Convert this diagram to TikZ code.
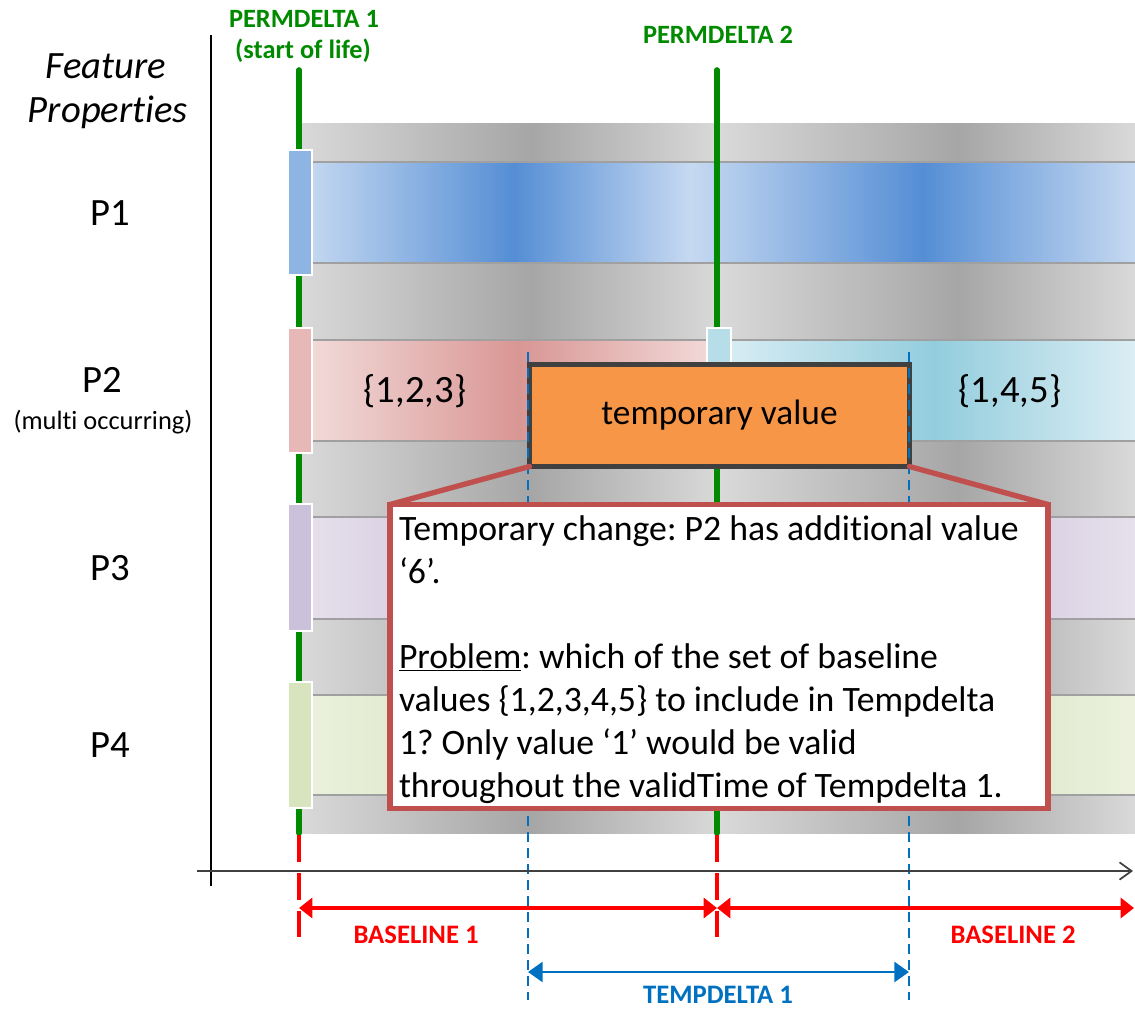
\documentclass[tikz,border=0pt]{standalone}
\usepackage{fontspec}
\setmainfont{Carlito}[Ligatures=NoCommon]
\usetikzlibrary{arrows.meta}
\frenchspacing

% palette
\definecolor{gLight}{HTML}{D9D9D9}
\definecolor{gDark}{HTML}{A6A6A6}
\definecolor{bLight}{HTML}{C6D9F1}
\definecolor{bDark}{HTML}{558ED5}
\definecolor{pkLight}{HTML}{F2DCDB}
\definecolor{pkDark}{HTML}{D99694}
\definecolor{cyLight}{HTML}{DBEEF4}
\definecolor{cyDark}{HTML}{93CDDD}
\definecolor{lvLight}{HTML}{E6E0EC}
\definecolor{lvDark}{HTML}{CCC1DA}
\definecolor{gnLight}{HTML}{EBF1DE}
\definecolor{gnDark}{HTML}{D7E4BD}
\definecolor{tabP1}{HTML}{8EB4E3}
\definecolor{tabP2}{HTML}{E6B9B8}
\definecolor{tabP2b}{HTML}{B7DEE8}
\definecolor{tabP3}{HTML}{CCC1DA}
\definecolor{tabP4}{HTML}{D7E4BD}
\definecolor{deltaGreen}{HTML}{008A00}
\definecolor{baseRed}{HTML}{FF0000}
\definecolor{tempBlue}{HTML}{0070C0}
\definecolor{tempOrange}{HTML}{F79646}
\definecolor{boxEdge}{HTML}{404040}
\definecolor{noteRed}{HTML}{C0504D}
\definecolor{rowEdge}{HTML}{A0A0A0}
\definecolor{axisGray}{HTML}{404040}

% horizontal shadings (the 25bp..75bp span covers the filled path)
\pgfdeclarehorizontalshading{bandshade}{100bp}{color(0bp)=(gLight); color(25bp)=(gLight); color(38.8bp)=(gDark); color(50.1bp)=(gLight); color(64.4bp)=(gDark); color(75bp)=(gLight); color(100bp)=(gLight)}
\pgfdeclarehorizontalshading{blueshade}{100bp}{color(0bp)=(bLight); color(25bp)=(bLight); color(37.6bp)=(bDark); color(48.2bp)=(bLight); color(62.2bp)=(bDark); color(75bp)=(bLight); color(100bp)=(bLight)}
\pgfdeclarehorizontalshading{lavshade}{100bp}{color(0bp)=(lvLight); color(25bp)=(lvLight); color(37.6bp)=(lvDark); color(48.2bp)=(lvLight); color(62.2bp)=(lvDark); color(75bp)=(lvLight); color(100bp)=(lvLight)}
\pgfdeclarehorizontalshading{grnshade}{100bp}{color(0bp)=(gnLight); color(25bp)=(gnLight); color(37.6bp)=(gnDark); color(48.2bp)=(gnLight); color(62.2bp)=(gnDark); color(75bp)=(gnLight); color(100bp)=(gnLight)}
\pgfdeclarehorizontalshading{pinkshade}{100bp}{color(0bp)=(pkLight); color(25bp)=(pkLight); color(51bp)=(pkDark); color(75bp)=(pkLight); color(100bp)=(pkLight)}
\pgfdeclarehorizontalshading{cyanshade}{100bp}{color(0bp)=(cyLight); color(25bp)=(cyLight); color(51bp)=(cyDark); color(75bp)=(cyLight); color(100bp)=(cyLight)}

\begin{document}
\begin{tikzpicture}[x=0.75pt,y=-0.75pt,
  txt/.style={inner sep=0pt, outer sep=0pt},
  proplbl/.style={txt, anchor=base, font=\fontsize{29}{35}\selectfont},
  axislbl/.style={txt, anchor=base, font=\itshape\fontsize{29}{35}\selectfont},
  setlbl/.style={txt, anchor=base, font=\fontsize{29}{35}\selectfont},
  deltalbl/.style={txt, anchor=base, font=\bfseries\fontsize{19.8}{24}\selectfont, text=deltaGreen},
  baselbl/.style={txt, anchor=base, font=\bfseries\fontsize{20}{24}\selectfont, text=baseRed},
  templbl/.style={txt, anchor=base, font=\bfseries\fontsize{20}{24}\selectfont, text=tempBlue},
  noteline/.style={txt, anchor=base west, font=\fontsize{26.8}{32}\selectfont},
  rowline/.style={draw=rowEdge, line width=1.2pt},
  tab/.style={draw=white, line width=0.8pt},
  lifeline/.style={draw=deltaGreen, line width=4.2pt, line cap=round},
  basetick/.style={draw=baseRed, line width=2.4pt, dash pattern=on 20pt off 8.5pt},
  temptick/.style={draw=tempBlue, line width=1.1pt, dash pattern=on 7.5pt off 4.5pt},
  basespan/.style={draw=baseRed, line width=2.4pt, {Triangle[length=10pt,width=15pt]}-{Triangle[length=10pt,width=15pt]}},
  tempspan/.style={draw=tempBlue, line width=2pt, {Triangle[length=11pt,width=15pt]}-{Triangle[length=11pt,width=15pt]}},
  tempbox/.style={draw=boxEdge, line width=3.5pt, fill=tempOrange, outer sep=0pt, inner sep=0pt,
    minimum width=285pt, minimum height=76.5pt, font=\fontsize{26.5}{32}\selectfont},
  notebox/.style={draw=noteRed, line width=4pt, fill=white, outer sep=0pt, inner sep=0pt,
    minimum width=493.5pt, minimum height=228pt},
  pointer/.style={draw=noteRed, line width=4pt, line cap=round}
]
\useasboundingbox (0,0) rectangle (1135,1010);

% grey backdrop behind the property rows
\shade[shading=bandshade] (300,123) rectangle (1135,833);

% property rows
\shade[shading=blueshade] (305,162) rectangle (1135,263);
\shade[shading=pinkshade] (305,340) rectangle (717,441);
\shade[shading=cyanshade] (717,340) rectangle (1135,441);
\shade[shading=lavshade]  (305,517) rectangle (1135,619);
\shade[shading=grnshade]  (305,695) rectangle (1135,795);
\foreach \yy in {162,263,340,441,517,619,695,795}
  \draw[rowline] (305,\yy) -- (1135,\yy);

% permanent deltas (life lines)
\coordinate (pd1top) at (299,70);
\coordinate (pd1bot) at (299,833);
\coordinate (pd2top) at (717,70);
\coordinate (pd2bot) at (717,833);
\draw[lifeline] (pd1top) -- (pd1bot);
\draw[lifeline] (pd2top) -- (pd2bot);

% start tabs of each property
\filldraw[tab, fill=tabP1] (288,150) rectangle (312,275);
\filldraw[tab, fill=tabP2] (288,328) rectangle (312,453);
\filldraw[tab, fill=tabP3] (288,504) rectangle (312,631);
\filldraw[tab, fill=tabP4] (288,682) rectangle (312,808);
\filldraw[tab, fill=tabP2b] (707,328) rectangle (731,453);

% temporary value box
\node[tempbox] (tv) at (719.5,415.5) {temporary value};

% temporary delta limits
\coordinate (td1top) at (528,352);
\coordinate (td1bot) at (528,1000);
\coordinate (td2top) at (909,352);
\coordinate (td2bot) at (909,1000);
\draw[temptick] (td1top) -- (td1bot);
\draw[temptick] (td2top) -- (td2bot);

% explanatory note
\node[notebox] (note) at (719,656.5) {};
\draw[pointer] (tv.south west) -- (note.north west);
\draw[pointer] (tv.south east) -- (note.north east);
\node[noteline] (n1) at (399,540) {Temporary change: P2 has additional value};
\node[noteline] (n2) at (399,583) {‘6’.};
\node[noteline] (n3) at (399,668) {\underline{Problem}: which of the set of baseline};
\node[noteline] (n4) at (399,711) {values \{1,2,3,4,5\} to include in Tempdelta};
\node[noteline] (n5) at (399,754) {1? Only value ‘1’ would be valid};
\node[noteline] (n6) at (399,797) {throughout the validTime of Tempdelta 1.};

% property value sets
\node[setlbl] (s123) at (415,402) {\{1,2,3\}};
\node[setlbl] (s145) at (1010,402) {\{1,4,5\}};

% axes
\coordinate (yaxtop) at (211,35);
\coordinate (yaxbot) at (211,886);
\coordinate (xaxbeg) at (197,871);
\coordinate (xaxend) at (1133,871);
\draw[black, line width=1.3pt] (yaxtop) -- (yaxbot);
\draw[axisGray, line width=1.3pt, -{Straight Barb[length=9pt,width=13pt]}] (xaxbeg) -- (xaxend);

% baseline ticks and spans
\coordinate (bt1top) at (299,835);
\coordinate (bt1bot) at (299,937);
\coordinate (bt2top) at (717,835);
\coordinate (bt2bot) at (717,937);
\draw[basetick] (bt1top) -- (bt1bot);
\draw[basetick] (bt2top) -- (bt2bot);
\coordinate (bs1) at (299,908);
\coordinate (bs2) at (717,908);
\coordinate (bs3) at (1134,908);
\draw[basespan] (bs1) -- (bs2);
\draw[basespan] (bs2) -- (bs3);
\coordinate (ts1) at (528,972);
\coordinate (ts2) at (909,972);
\draw[tempspan] (ts1) -- (ts2);

% labels
\node[axislbl] (feat) at (106,78) {Feature};
\node[axislbl] (props) at (108,122) {Properties};
\node[proplbl] (p1) at (110,225) {P1};
\node[proplbl] (p2) at (102,392) {P2};
\node[txt, anchor=base, font=\fontsize{19.8}{24}\selectfont] (p2note) at (103,429) {(multi occurring)};
\node[proplbl] (p3) at (110,580) {P3};
\node[proplbl] (p4) at (110,757) {P4};
\node[deltalbl] (pd1a) at (304,27) {PERMDELTA 1};
\node[deltalbl] (pd1b) at (303,58) {(start of life)};
\node[deltalbl] (pd2) at (718,43) {PERMDELTA 2};
\node[baselbl] (bl1) at (416,943) {BASELINE 1};
\node[baselbl] (bl2) at (1013,943) {BASELINE 2};
\node[templbl] (tdl) at (718,1003) {TEMPDELTA 1};
\end{tikzpicture}
\end{document}
